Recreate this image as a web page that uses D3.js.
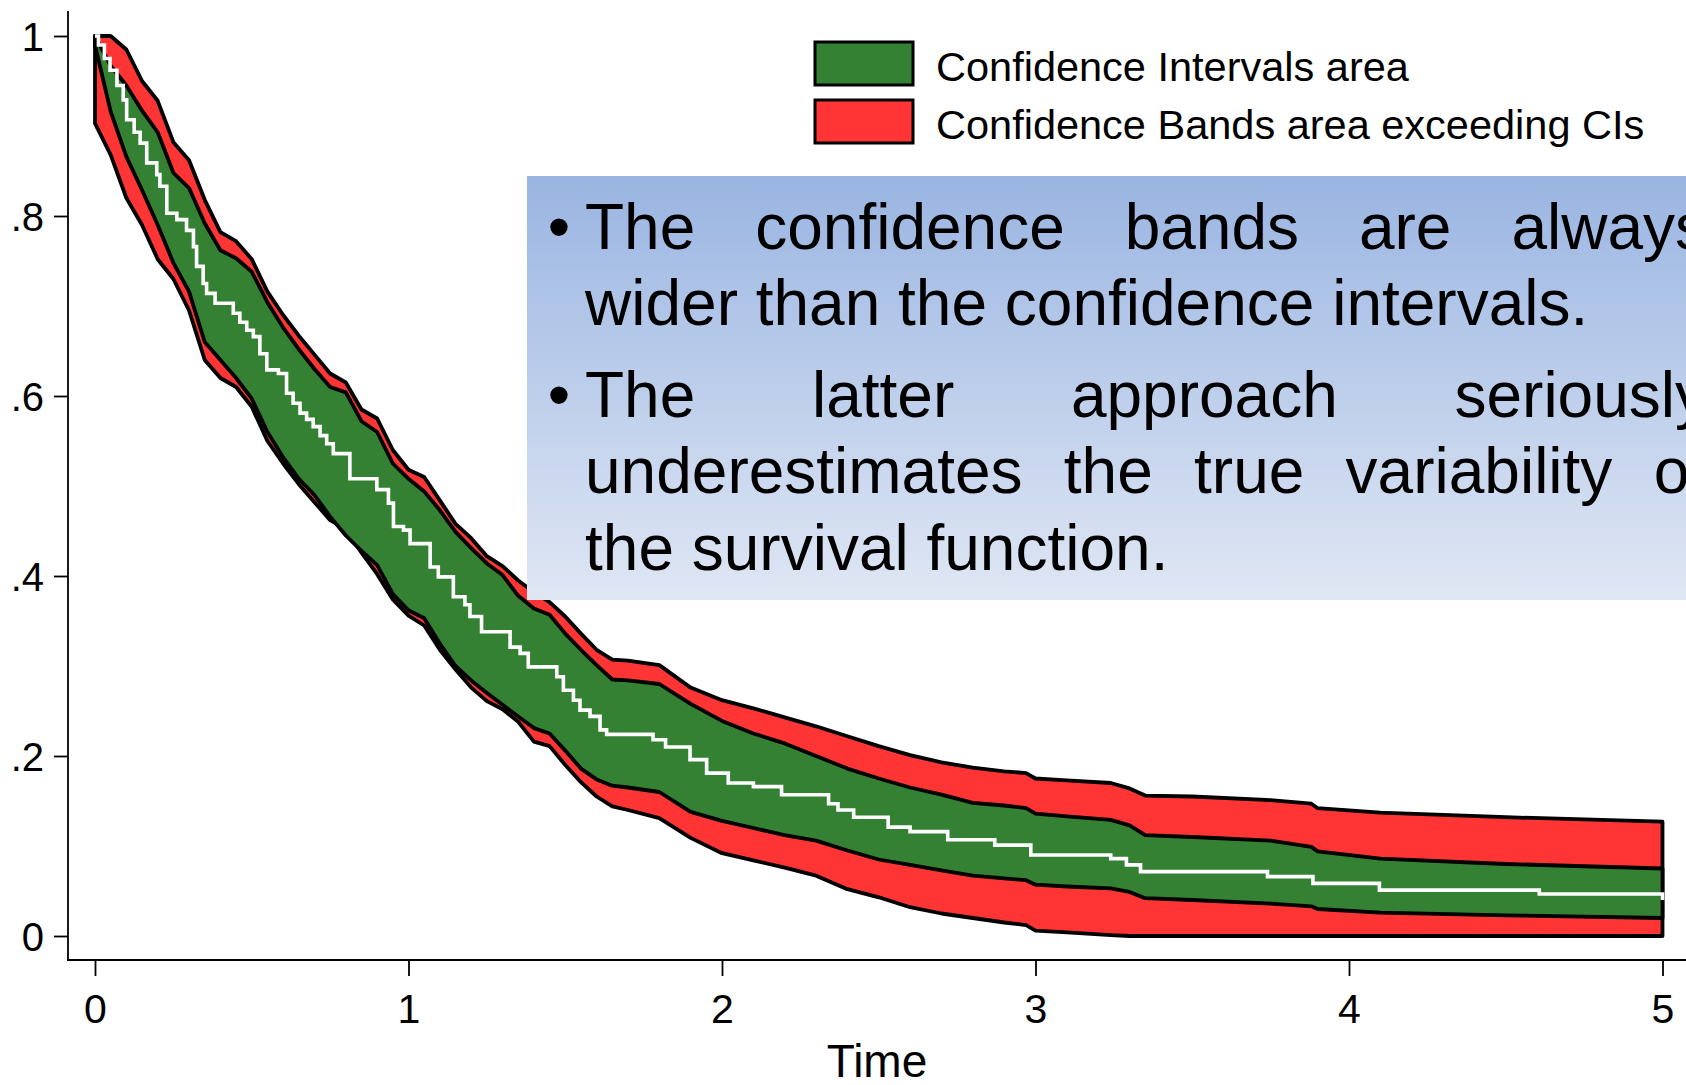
<!DOCTYPE html>
<meta charset="utf-8">
<title>Confidence bands vs confidence intervals</title>
<style>
body { margin: 0; background: #fff; }
svg { display: block; font-family: "Liberation Sans", Arial, sans-serif; }
.axis text { fill: #000; }
.axis line, .axis path { stroke: #000; stroke-width: 1.8; }
</style>
<body>
<svg width="1686" height="1085"></svg>
<script src="https://d3js.org/d3.v7.min.js"></script>
<script>
// band grid (time) and the four band edges
var times = [0, 0.05, 0.1, 0.15, 0.2, 0.25, 0.3, 0.35, 0.4, 0.45, 0.5, 0.55, 0.6, 0.65, 0.7, 0.75, 0.8, 0.85, 0.9, 0.95, 1.0,
  1.05, 1.1, 1.15, 1.2, 1.25, 1.3, 1.35, 1.4, 1.45, 1.5, 1.55, 1.6, 1.65, 1.7,
  1.8, 1.9, 2.0, 2.1, 2.2, 2.3, 2.4, 2.5, 2.6, 2.7, 2.8, 2.9,
  2.97, 3.0, 3.1, 3.24, 3.3, 3.35, 3.5, 3.75, 3.88, 3.9, 4.1, 4.5, 5.0];

var cbHi = [1.0, 1.0, 0.985, 0.950, 0.928, 0.882, 0.862, 0.818, 0.782, 0.772, 0.752, 0.716, 0.690, 0.667, 0.646, 0.625, 0.615, 0.585, 0.575, 0.540, 0.518,
  0.510, 0.484, 0.458, 0.442, 0.422, 0.411, 0.395, 0.382, 0.371, 0.355, 0.336, 0.318, 0.307, 0.306,
  0.301, 0.276, 0.262, 0.253, 0.243, 0.233, 0.222, 0.211, 0.201, 0.193, 0.187, 0.183,
  0.181, 0.175, 0.173, 0.170, 0.164, 0.156, 0.155, 0.151, 0.147, 0.142, 0.137, 0.132, 0.127];

var ciHi = [1.0, 0.967, 0.945, 0.917, 0.893, 0.848, 0.831, 0.792, 0.762, 0.753, 0.738, 0.704, 0.676, 0.652, 0.630, 0.610, 0.604, 0.572, 0.560, 0.525, 0.508,
  0.494, 0.473, 0.449, 0.431, 0.414, 0.401, 0.378, 0.364, 0.357, 0.336, 0.318, 0.301, 0.285, 0.284,
  0.280, 0.258, 0.239, 0.225, 0.214, 0.200, 0.186, 0.175, 0.165, 0.157, 0.148, 0.145,
  0.142, 0.136, 0.133, 0.129, 0.123, 0.112, 0.110, 0.106, 0.099, 0.094, 0.086, 0.080, 0.075];

var ciLo = [0.990, 0.916, 0.866, 0.829, 0.790, 0.748, 0.716, 0.660, 0.640, 0.620, 0.597, 0.560, 0.532, 0.508, 0.490, 0.466, 0.445, 0.428, 0.412, 0.380, 0.362,
  0.353, 0.325, 0.300, 0.284, 0.270, 0.257, 0.244, 0.231, 0.225, 0.206, 0.186, 0.174, 0.167, 0.165,
  0.160, 0.138, 0.128, 0.120, 0.112, 0.106, 0.095, 0.085, 0.079, 0.073, 0.067, 0.064,
  0.062, 0.057, 0.055, 0.053, 0.049, 0.042, 0.040, 0.036, 0.033, 0.030, 0.026, 0.023, 0.020];

var cbLo = [0.903, 0.868, 0.820, 0.790, 0.752, 0.730, 0.695, 0.640, 0.620, 0.610, 0.588, 0.550, 0.525, 0.502, 0.482, 0.462, 0.452, 0.426, 0.402, 0.374, 0.356,
  0.345, 0.318, 0.296, 0.276, 0.261, 0.252, 0.238, 0.216, 0.211, 0.190, 0.171, 0.155, 0.144, 0.140,
  0.131, 0.109, 0.092, 0.084, 0.076, 0.067, 0.052, 0.043, 0.032, 0.025, 0.020, 0.015,
  0.012, 0.006, 0.004, 0.001, 0, 0, 0, 0, 0, 0, 0, 0, 0];

// Kaplan-Meier steps (white line)
var kmTime = [0, 0.011, 0.03, 0.048, 0.07, 0.09, 0.101, 0.125, 0.144, 0.165, 0.197, 0.207, 0.229, 0.261, 0.292,
  0.314, 0.324, 0.345, 0.356, 0.383, 0.441, 0.462, 0.484, 0.505, 0.526, 0.548, 0.585, 0.611, 0.632, 0.654,
  0.675, 0.696, 0.718, 0.739, 0.76, 0.813, 0.899, 0.936, 0.952, 0.984, 1.005, 1.069, 1.095, 1.143, 1.18,
  1.196, 1.233, 1.324, 1.356, 1.382, 1.473, 1.494, 1.526, 1.547, 1.579, 1.611, 1.632, 1.78, 1.82, 1.898,
  1.951, 2.02, 2.1, 2.19, 2.34, 2.37, 2.42, 2.53, 2.6, 2.72, 2.87, 2.985, 3.24, 3.29, 3.335,
  3.74, 3.885, 4.097, 4.607, 5.0];
var kmSurv = [1.0, 0.99, 0.975, 0.962, 0.945, 0.929, 0.907, 0.893, 0.881, 0.859, 0.846, 0.833, 0.803, 0.796, 0.784,
  0.766, 0.744, 0.725, 0.714, 0.703, 0.692, 0.682, 0.673, 0.666, 0.647, 0.629, 0.625, 0.603, 0.592, 0.581,
  0.574, 0.566, 0.556, 0.547, 0.536, 0.508, 0.496, 0.481, 0.455, 0.451, 0.436, 0.41, 0.399, 0.377, 0.368,
  0.355, 0.338, 0.321, 0.314, 0.299, 0.288, 0.273, 0.262, 0.251, 0.244, 0.229, 0.224, 0.218, 0.21, 0.196,
  0.181, 0.17, 0.166, 0.157, 0.147, 0.14, 0.132, 0.121, 0.116, 0.107, 0.101, 0.09, 0.086, 0.079, 0.0715,
  0.066, 0.0585, 0.051, 0.0467, 0.04];

var xTicks = [0, 1, 2, 3, 4, 5];
var yTicks = [0, 0.2, 0.4, 0.6, 0.8, 1];
var yTickLabels = ["0", ".2", ".4", ".6", ".8", "1"];
var xTitle = "Time";

var legendLabels = ["Confidence Intervals area", "Confidence Bands area exceeding CIs"];
var legendColors = ["#358134", "#ff3434"];

// callout lines; justify = stretch words to the full line width
var calloutLines = [
  {text: "The confidence bands are always", justify: true, bullet: true},
  {text: "wider than the confidence intervals.", justify: false},
  {text: "The latter approach seriously", justify: true, bullet: true},
  {text: "underestimates the true variability of", justify: true},
  {text: "the survival function.", justify: false}
];

var svg = d3.select("svg");

var x = d3.scaleLinear().domain([0, 5]).range([95, 1662.5]);
var y = d3.scaleLinear().domain([0, 1]).range([936, 36]);

var band = times.map(function(t, i) {
  return {t: t, cbHi: cbHi[i], ciHi: ciHi[i], ciLo: ciLo[i], cbLo: cbLo[i]};
});
var km = kmTime.map(function(t, i) { return {t: t, s: kmSurv[i]}; });

//bands: red first, green over it
svg.append("path")
    .datum(band)
    .attr("fill", legendColors[1])
    .attr("stroke", "#000")
    .attr("stroke-width", 3.8)
    .attr("stroke-linejoin", "round")
    .attr("d", d3.area().x(function(d) { return x(d.t); })
        .y0(function(d) { return y(d.cbLo); })
        .y1(function(d) { return y(d.cbHi); }));

svg.append("path")
    .datum(band)
    .attr("fill", legendColors[0])
    .attr("stroke", "#000")
    .attr("stroke-width", 3.8)
    .attr("stroke-linejoin", "round")
    .attr("d", d3.area().x(function(d) { return x(d.t); })
        .y0(function(d) { return y(d.ciLo); })
        .y1(function(d) { return y(d.ciHi); }));

svg.append("path")
    .datum(km)
    .attr("fill", "none")
    .attr("stroke", "#fff")
    .attr("stroke-width", 3.6)
    .attr("d", d3.line().curve(d3.curveStepAfter)
        .x(function(d) { return x(d.t); })
        .y(function(d) { return y(d.s); }));

// axes
svg.append("line").attr("x1", 68).attr("x2", 68).attr("y1", 11).attr("y2", 960)
    .attr("stroke", "#000").attr("stroke-width", 1.8);
svg.append("line").attr("x1", 67).attr("x2", 1686).attr("y1", 960).attr("y2", 960)
    .attr("stroke", "#000").attr("stroke-width", 1.8);

var yAxis = svg.append("g")
    .attr("class", "axis")
    .attr("transform", "translate(68,0)")
    .call(d3.axisLeft(y).tickValues(yTicks).tickSize(14).tickPadding(10)
        .tickFormat(function(d, i) { return yTickLabels[i]; }));
yAxis.select(".domain").remove();
yAxis.selectAll("text").style("font-size", "40px").attr("dy", "0.36em");

var xAxis = svg.append("g")
    .attr("class", "axis")
    .attr("transform", "translate(0,960)")
    .call(d3.axisBottom(x).tickValues(xTicks).tickSize(16).tickPadding(18)
        .tickFormat(d3.format("d")));
xAxis.select(".domain").remove();
xAxis.selectAll("text").style("font-size", "41px").attr("dy", "0.71em");

svg.append("text")
    .attr("x", 877).attr("y", 1077)
    .attr("text-anchor", "middle")
    .style("font-size", "46px")
    .text(xTitle);

// legend
var legend = svg.append("g").selectAll("g")
  .data(legendLabels)
  .enter().append("g")
    .attr("transform", function(d, i) { return "translate(815," + (42 + i * 58) + ")"; });
legend.append("rect")
    .attr("width", 98).attr("height", 43)
    .attr("fill", function(d, i) { return legendColors[i]; })
    .attr("stroke", "#000").attr("stroke-width", 3);
legend.append("text")
    .attr("x", 121).attr("y", 39)
    .style("font-size", "41.5px")
    .text(function(d) { return d; });

// callout box drawn over the plot
var grad = svg.append("defs").append("linearGradient")
    .attr("id", "boxfill").attr("x1", 0).attr("x2", 0).attr("y1", 0).attr("y2", 1);
grad.append("stop").attr("offset", "0%").attr("stop-color", "#9ab5e2");
grad.append("stop").attr("offset", "100%").attr("stop-color", "#e0e7f4");

svg.append("rect")
    .attr("x", 527).attr("y", 176)
    .attr("width", 1686 - 527).attr("height", 600 - 176)
    .attr("fill", "url(#boxfill)");

var textLeft = 585, textRight = 1707;
var baselines = [249, 325, 417, 493, 570];
var callout = svg.append("g").style("font-size", "64px");

calloutLines.forEach(function(line, li) {
  var yb = baselines[li];
  if (line.bullet) {
    callout.append("text").attr("x", 559).attr("y", yb).attr("text-anchor", "middle").text("\u2022");
  }
  if (!line.justify) {
    callout.append("text").attr("x", textLeft).attr("y", yb).text(line.text);
    return;
  }
  var words = line.text.split(" ");
  var nodes = words.map(function(w) {
    return callout.append("text").attr("y", yb).text(w);
  });
  var widths = nodes.map(function(n) { return n.node().getComputedTextLength(); });
  var gap = (textRight - textLeft - d3.sum(widths)) / (words.length - 1);
  var cx = textLeft;
  nodes.forEach(function(n, i) {
    n.attr("x", cx);
    cx += widths[i] + gap;
  });
});
</script>
</body>
